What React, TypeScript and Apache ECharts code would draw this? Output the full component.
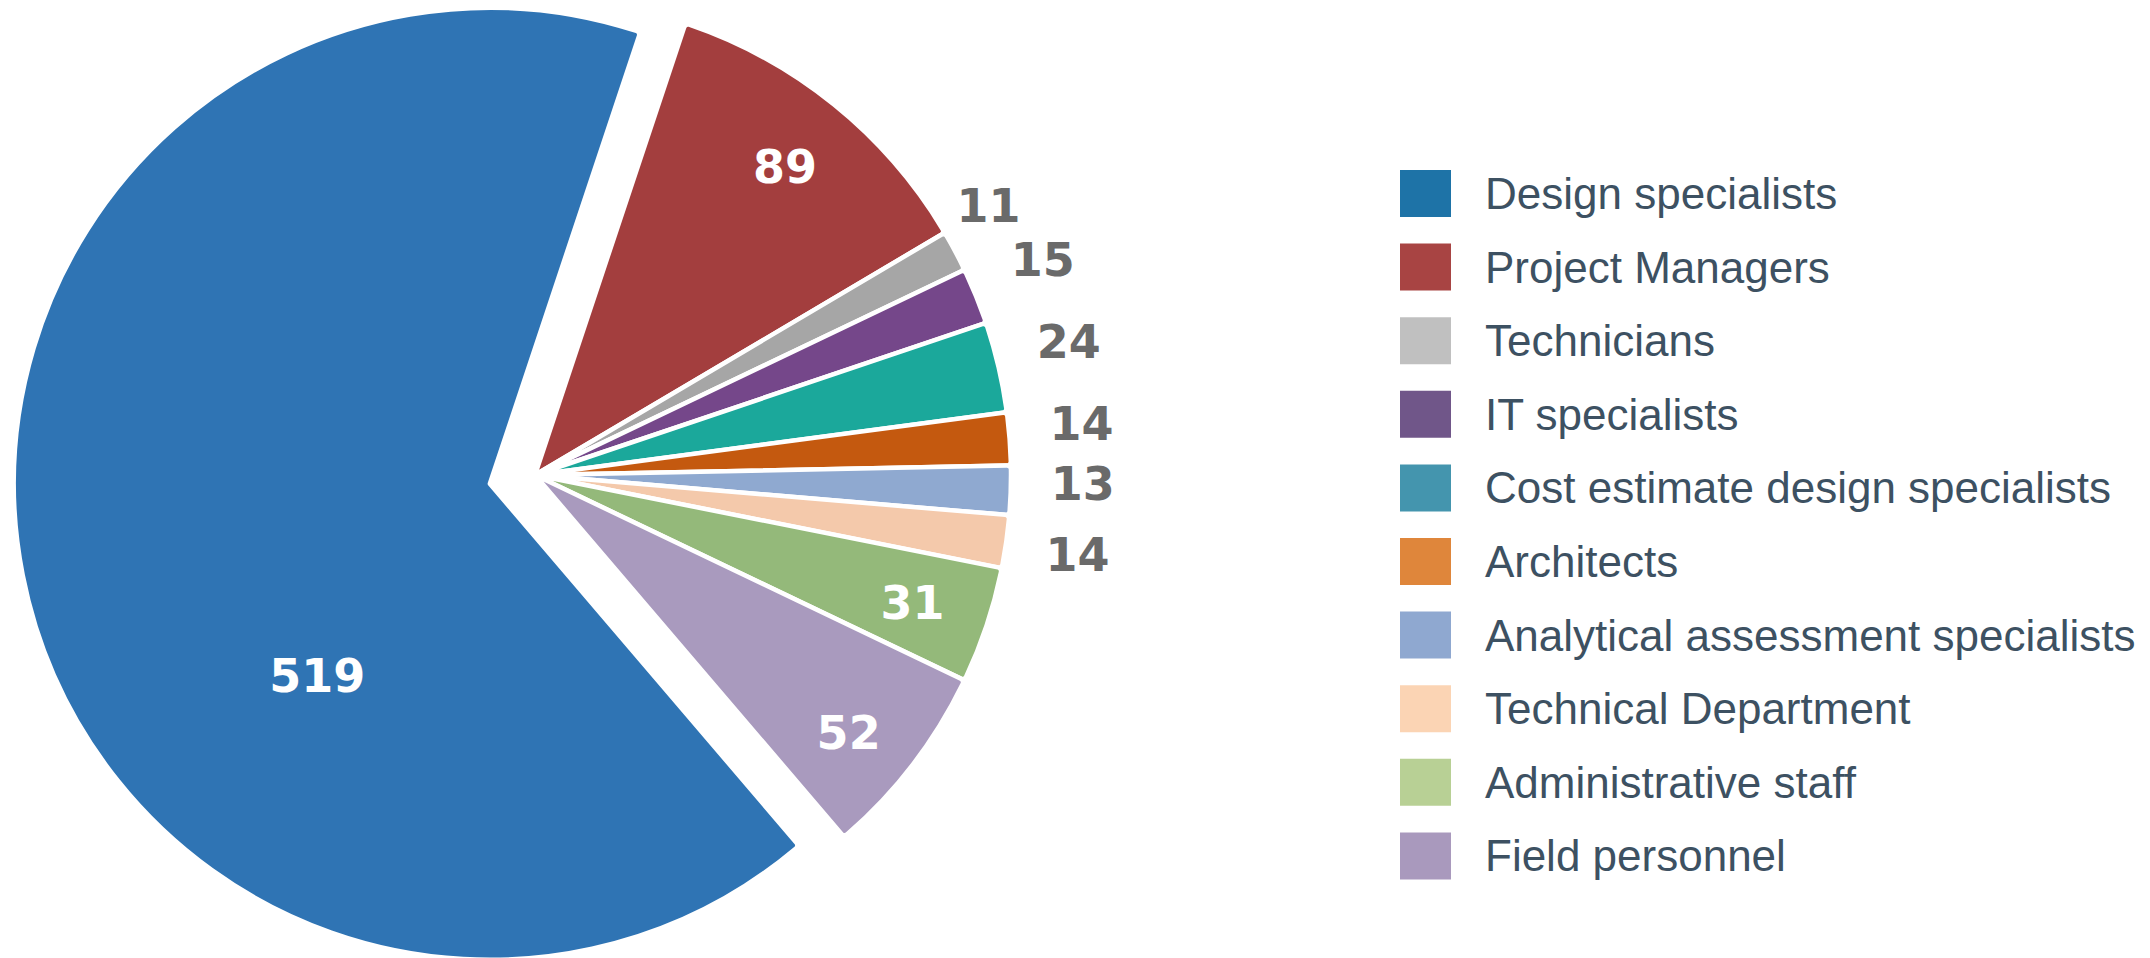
import React, { useEffect, useRef } from "react";
import * as echarts from "echarts";

const categories = [
  "Design specialists",
  "Project Managers",
  "Technicians",
  "IT specialists",
  "Cost estimate design specialists",
  "Architects",
  "Analytical assessment specialists",
  "Technical Department",
  "Administrative staff",
  "Field personnel",
];
const values = [519, 89, 11, 15, 24, 14, 13, 14, 31, 52];
const sliceColors = [
  "#2f74b4",
  "#a33e3e",
  "#a6a6a6",
  "#75478a",
  "#1ba89b",
  "#c4590f",
  "#8fa9d0",
  "#f4c9ab",
  "#94b97a",
  "#a99abe",
];
const legendColors = [
  "#1e73a7",
  "#a84443",
  "#c0c0c0",
  "#705689",
  "#4495ae",
  "#df863b",
  "#8fa8d0",
  "#fbd4b4",
  "#b8d095",
  "#a999bd",
];
// where each value label is written: on the exploded slice, inside the ring, or outside the pie
const labelPlacement = ["main", "inner", "outer", "outer", "outer", "outer", "outer", "outer", "inner", "inner"];

export default function App() {
  const ref = useRef<HTMLDivElement>(null);
  useEffect(() => {
    const chart = echarts.init(ref.current!, null, { renderer: "svg" });
    const startAngle = 310.5;
    const numFont = { fontFamily: "DejaVu Sans", fontWeight: "bold" as const, fontSize: 46 };

    // small nudges of individual value labels, [dx, dy] in px
    const nudges: Record<number, number[]> = { 0: [64, 146], 2: [-30, -2], 7: [0, 12], 9: [-2, 14] };
    const nudge = (p: any) => {
      const n = nudges[p.dataIndex];
      return n ? { dx: n[0], dy: n[1] } : {};
    };

    const overlay = (kind: string, center: number[], radius: number[], color: string) => ({
      type: "pie",
      center,
      radius,
      startAngle,
      silent: true,
      avoidLabelOverlap: false,
      z: 3,
      itemStyle: { color: "rgba(0,0,0,0)", borderWidth: 0 },
      label: { position: "inside", color, formatter: "{c}", ...numFont },
      labelLine: { show: false },
      labelLayout: nudge,
      emphasis: { disabled: true },
      data: categories.map((name, i) => ({
        name,
        value: values[i],
        label: { show: labelPlacement[i] === kind },
      })),
    });

    chart.setOption({
      animation: false,
      backgroundColor: "#ffffff",
      legend: {
        orient: "vertical",
        left: 1395,
        top: 165,
        itemWidth: 51,
        itemHeight: 47,
        itemGap: 26.6,
        icon: "rect",
        selectedMode: false,
        itemStyle: { borderWidth: 0 },
        textStyle: {
          fontFamily: "Liberation Sans",
          fontSize: 44,
          color: "#3d5162",
          padding: [0, 0, 0, 29],
          lineHeight: 47,
        },
        data: categories.map((name, i) => ({ name, itemStyle: { color: legendColors[i] } })),
      },
      series: [
        {
          type: "pie",
          center: [535, 475],
          radius: 476,
          startAngle,
          clockwise: true,
          selectedMode: "single",
          selectedOffset: 46,
          avoidLabelOverlap: false,
          itemStyle: { borderColor: "#ffffff", borderWidth: 4.5, borderRadius: 4 },
          label: { position: "inside", color: "#ffffff", formatter: "{c}", ...numFont },
          labelLine: { show: false },
          labelLayout: nudge,
          emphasis: { disabled: true },
          data: categories.map((name, i) => ({
            name,
            value: values[i],
            selected: i === 0,
            itemStyle: { color: sliceColors[i] },
            select: { itemStyle: { color: sliceColors[i], borderColor: "#ffffff", borderWidth: 4.5 } },
            label: { show: labelPlacement[i] === "main" },
          })),
        },
        overlay("inner", [535, 477], [330, 460], "#ffffff"),
        overlay("outer", [535, 466], [500, 590], "#6a6a6a"),
      ],
    });
    return () => chart.dispose();
  }, []);
  return <div ref={ref} style={{ position: "absolute", left: 0, top: 0, width: 2150, height: 958 }} />;
}
